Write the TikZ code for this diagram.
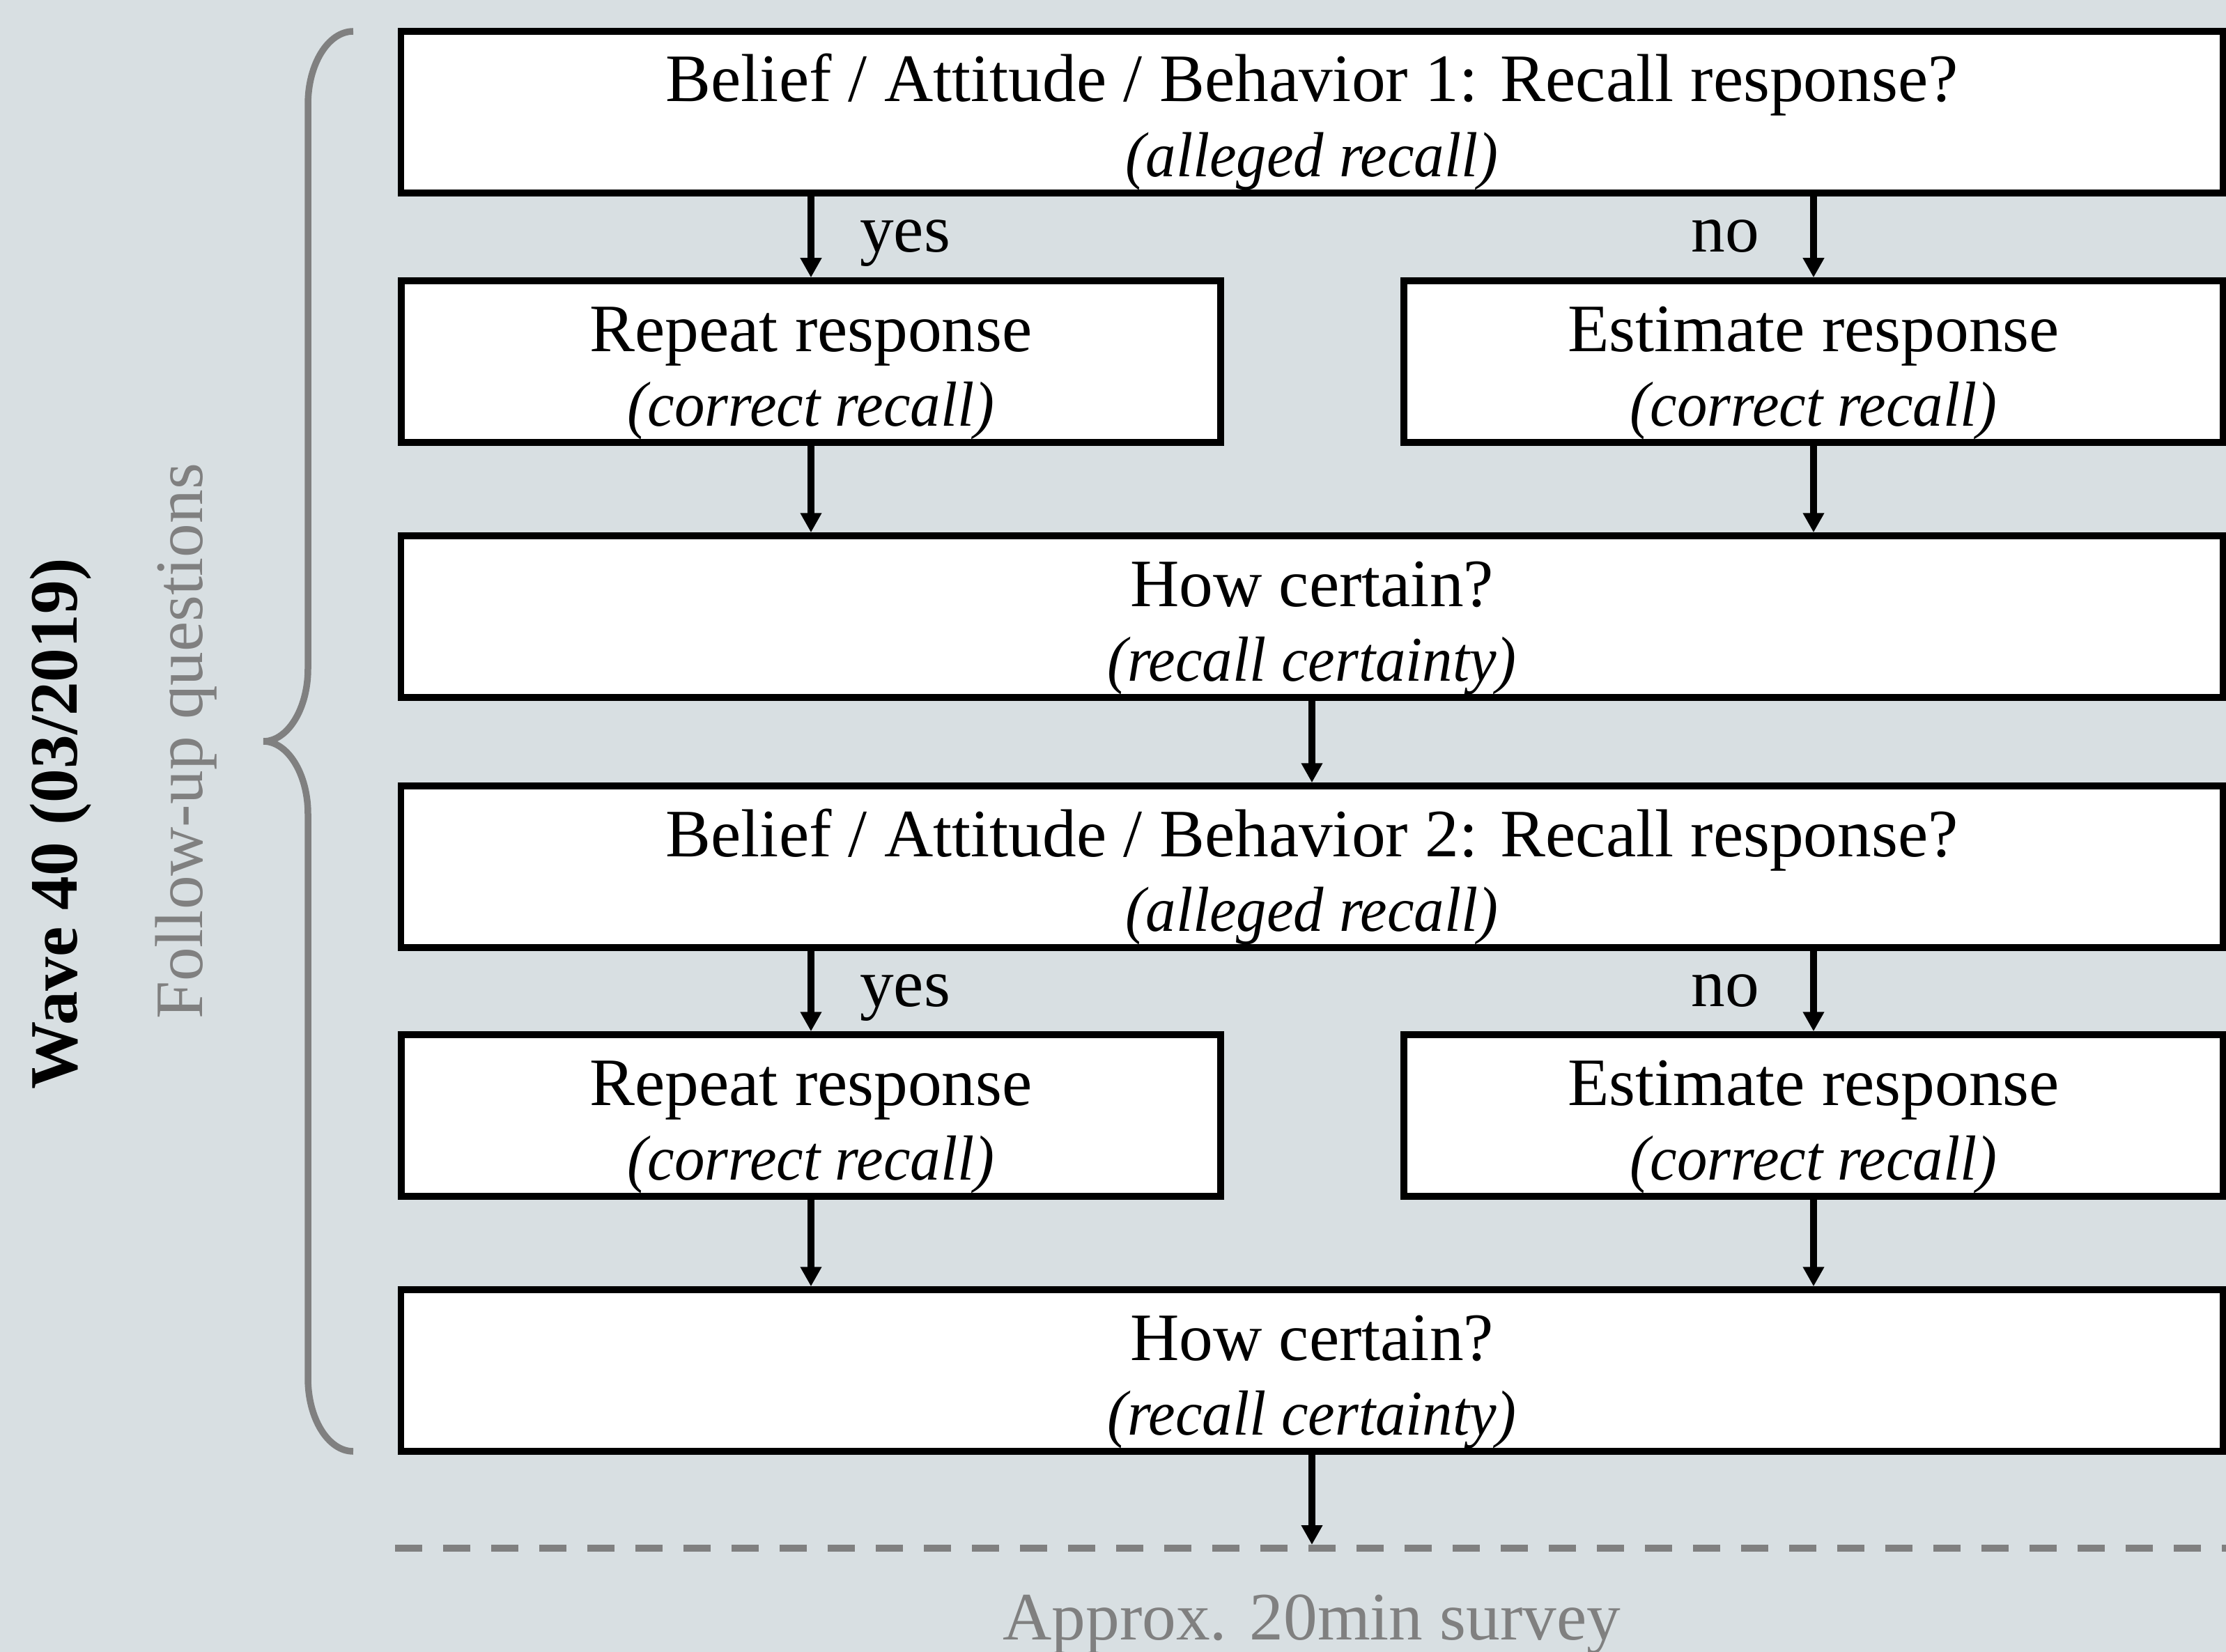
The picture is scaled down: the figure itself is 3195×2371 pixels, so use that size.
\documentclass[tikz,border=0pt]{standalone}
\usepackage{fontspec}
\usepackage{graphicx}
\setmainfont{Liberation Serif}
\usetikzlibrary{arrows.meta}

\definecolor{bgblue}{RGB}{216,223,226}
\definecolor{softgray}{RGB}{128,128,128}

\newcommand\qfont{\fontsize{27.7pt}{30.7pt}\selectfont}
\newcommand\subq[1]{\scalebox{0.95}[1]{\fontsize{26pt}{30pt}\selectfont\itshape #1}}
\newcommand\twoline[2]{\vtop{\halign{\hfil##\hfil\cr #1\cr \subq{#2}\cr}}}

\begin{document}
\begin{tikzpicture}[x=0.1mm,y=-0.1mm,
  qbox/.style={draw,fill=white,line width=0.95mm,inner sep=0pt,
    minimum height=23.2mm,text height=0pt,text depth=3mm,font=\qfont},
  widebox/.style={qbox,minimum width=261.5mm},
  halfbox/.style={qbox,minimum width=117.6mm},
  arr/.style={line width=0.95mm,-{Triangle[width=2.9mm,length=2.8mm]}},
  lbl/.style={font=\qfont,inner sep=0pt,anchor=base}
]

\fill[bgblue] (0,0) rectangle (3195,2371);
\useasboundingbox (0,0) rectangle (3195,2371);

% side labels
\node[lbl,rotate=90,font=\qfont\bfseries] (wave) at (110,1182) {Wave 40 (03/2019)};
\node[lbl,rotate=90,text=softgray] (followup) at (290,1064) {Follow-up questions};

\draw[softgray,line width=0.95mm] (507,45) .. controls (471,45) and (442,92) .. (442,150)
  -- (442,960) .. controls (442,1017) and (413,1064) .. (378,1064)
  .. controls (413,1064) and (442,1111) .. (442,1168)
  -- (442,1978) .. controls (442,2036) and (471,2083) .. (507,2083);

% first item
\node[widebox] (recall1) at (1883,161) {\twoline{Belief / Attitude / Behavior 1: Recall response?}{(alleged recall)}};
\node[halfbox] (repeat1) at (1164,519) {\twoline{Repeat response}{(correct recall)}};
\node[halfbox] (estimate1) at (2603,519) {\twoline{Estimate response}{(correct recall)}};
\node[widebox] (certain1) at (1883,885) {\twoline{How certain?}{(recall certainty)}};

\node[lbl] (yes1) at (1299,362) {yes};
\node[lbl] (no1) at (2476,362) {no};

\draw[arr] (recall1.south -| repeat1) -- (repeat1);
\draw[arr] (recall1.south -| estimate1) -- (estimate1);
\draw[arr] (repeat1) -- (repeat1 |- certain1.north);
\draw[arr] (estimate1) -- (estimate1 |- certain1.north);

% second item
\node[widebox] (recall2) at (1883,1244) {\twoline{Belief / Attitude / Behavior 2: Recall response?}{(alleged recall)}};
\node[halfbox] (repeat2) at (1164,1601) {\twoline{Repeat response}{(correct recall)}};
\node[halfbox] (estimate2) at (2603,1601) {\twoline{Estimate response}{(correct recall)}};
\node[widebox] (certain2) at (1883,1967) {\twoline{How certain?}{(recall certainty)}};

\node[lbl] (yes2) at (1299,1444) {yes};
\node[lbl] (no2) at (2476,1444) {no};

\draw[arr] (certain1) -- (recall2);
\draw[arr] (recall2.south -| repeat2) -- (repeat2);
\draw[arr] (recall2.south -| estimate2) -- (estimate2);
\draw[arr] (repeat2) -- (repeat2 |- certain2.north);
\draw[arr] (estimate2) -- (estimate2 |- certain2.north);

% end of follow-up part
\draw[softgray,line width=1mm,dash pattern=on 3.9mm off 3mm] (567,2222) -- (3195,2222);
\coordinate (surveyend) at (1883,2217);
\draw[arr] (certain2) -- (surveyend);

\node[lbl,text=softgray] (survey) at (1883,2353) {Approx. 20min survey};

\end{tikzpicture}
\end{document}
